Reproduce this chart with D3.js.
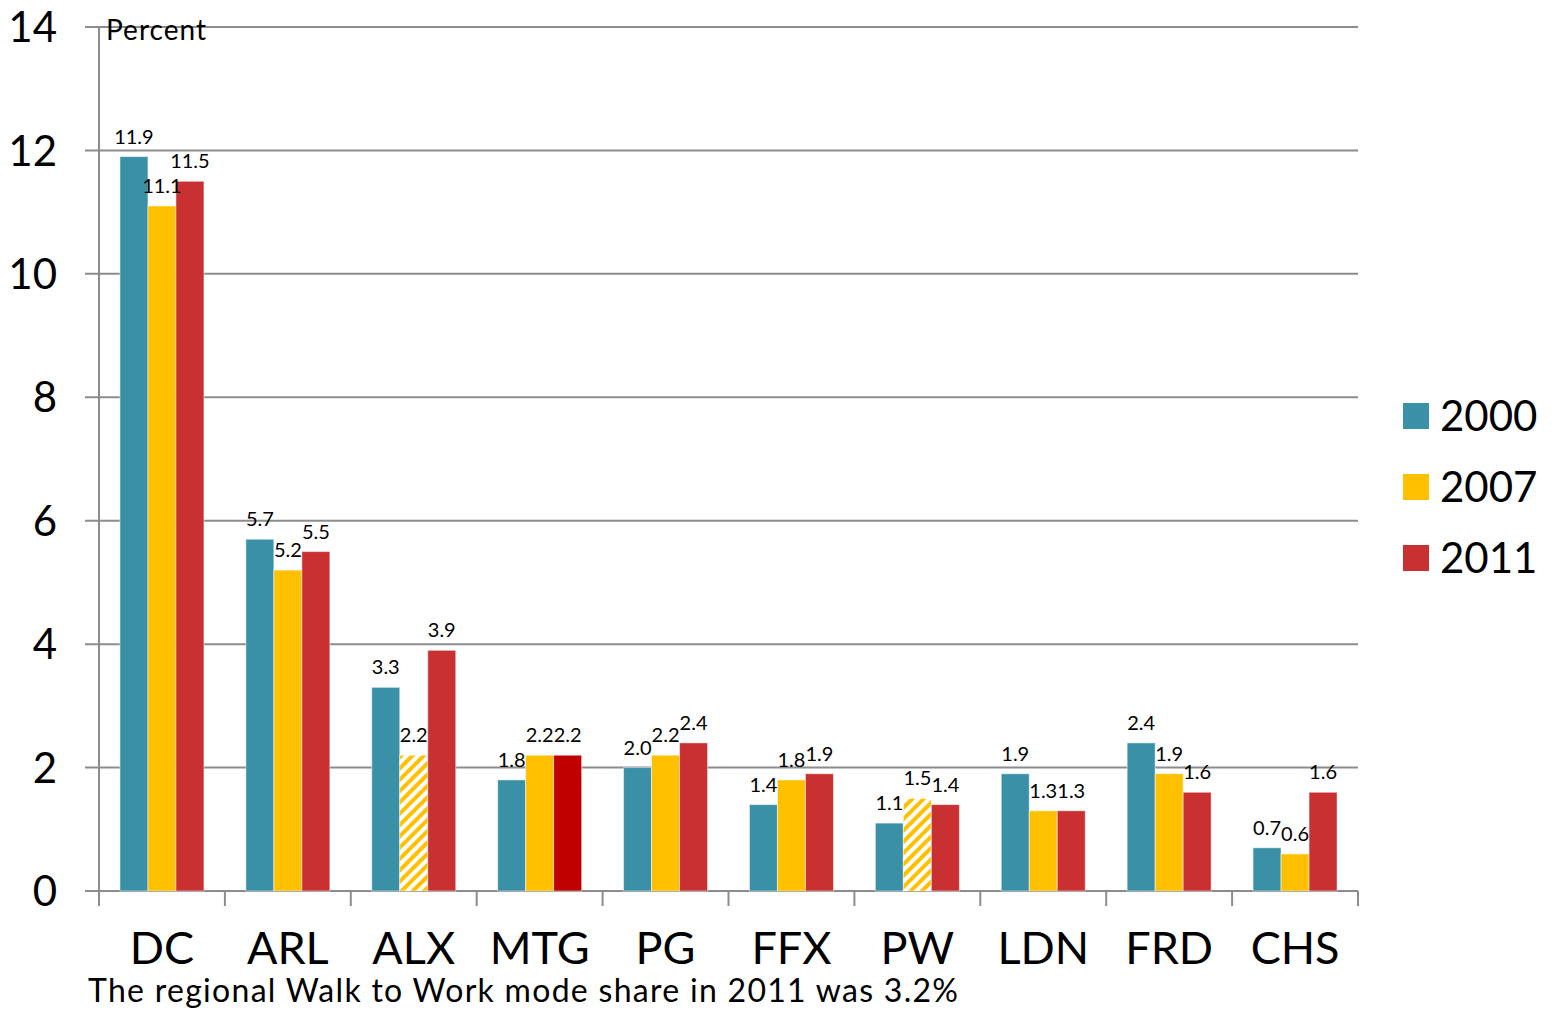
<!DOCTYPE html>
<html>
<head>
<meta charset="utf-8">
<script src="https://cdn.jsdelivr.net/npm/d3@7"></script>
<style>
  body { margin: 0; background: #fff; }
  text { font-family: Lato, "Open Sans", sans-serif; fill: #000; }
</style>
</head>
<body>
<script>
// data
var places = ["DC", "ARL", "ALX", "MTG", "PG", "FFX", "PW", "LDN", "FRD", "CHS"];
var years = ["2000", "2007", "2011"];
var v2000 = [11.9, 5.7, 3.3, 1.8, 2.0, 1.4, 1.1, 1.9, 2.4, 0.7];
var v2007 = [11.1, 5.2, 2.2, 2.2, 2.2, 1.8, 1.5, 1.3, 1.9, 0.6];
var v2011 = [11.5, 5.5, 3.9, 2.2, 2.4, 1.9, 1.4, 1.3, 1.6, 1.6];
var yTicks = [0, 2, 4, 6, 8, 10, 12, 14];
var hatched = ["ALX|2007", "PW|2007"];   // striped bars
var darker = ["MTG|2011"];              // darker red bar
var colors = { "2000": "#3A91A7", "2007": "#FFC000", "2011": "#C83031" };

var W = 1558, H = 1011;
var svg = d3.select("body").append("svg").attr("width", W).attr("height", H);

var defs = svg.append("defs");
var pat = defs.append("pattern")
  .attr("id", "hatch")
  .attr("patternUnits", "userSpaceOnUse")
  .attr("width", 8).attr("height", 8)
  .attr("patternTransform", "rotate(45)");
pat.append("rect").attr("width", 8).attr("height", 8).attr("fill", "#fff");
pat.append("rect").attr("width", 4).attr("height", 8).attr("fill", "#FFC000");

var x0 = d3.scaleBand().domain(places).range([99, 1358]);
var x1 = d3.scaleBand().domain(years).range([0, 84]);
var y = d3.scaleLinear().domain([0, 14]).range([891, 27]);

// grid
svg.append("g").selectAll("line").data(yTicks).enter().append("line")
  .attr("x1", 85).attr("x2", 1358)
  .attr("y1", function(d) { return y(d); }).attr("y2", function(d) { return y(d); })
  .attr("stroke", "#8c8c8c").attr("stroke-width", 2);

// y axis line
svg.append("line").attr("x1", 99).attr("x2", 99).attr("y1", y(14)).attr("y2", y(0))
  .attr("stroke", "#8c8c8c").attr("stroke-width", 2);

// y labels
svg.append("g").selectAll("text").data(yTicks).enter().append("text")
  .attr("x", 57).attr("y", function(d) { return y(d); })
  .attr("dy", "0.36em").attr("text-anchor", "end")
  .style("font-size", "42px")
  .text(function(d) { return d; });

svg.append("text").attr("x", 106).attr("y", 40).style("font-size", "28px")
  .attr("textLength", 100).text("Percent");

// x ticks
var bounds = places.map(function(p) { return x0(p); }).concat([1358]);
svg.append("g").selectAll("line").data(bounds).enter().append("line")
  .attr("x1", function(d) { return d; }).attr("x2", function(d) { return d; })
  .attr("y1", 891).attr("y2", 906)
  .attr("stroke", "#8c8c8c").attr("stroke-width", 2);

// bars
var rows = [];
places.forEach(function(p, i) {
  rows.push({ place: p, year: "2000", v: v2000[i] });
  rows.push({ place: p, year: "2007", v: v2007[i] });
  rows.push({ place: p, year: "2011", v: v2011[i] });
});

function fillOf(d) {
  var k = d.place + "|" + d.year;
  if (hatched.indexOf(k) >= 0) return "url(#hatch)";
  if (darker.indexOf(k) >= 0) return "#C00000";
  return colors[d.year];
}
function bx(d) { return x0(d.place) + (x0.bandwidth() - 84) / 2 + x1(d.year); }

svg.append("g").selectAll("rect").data(rows).enter().append("rect")
  .attr("x", bx)
  .attr("y", function(d) { return y(d.v); })
  .attr("width", x1.bandwidth())
  .attr("height", function(d) { return y(0) - y(d.v); })
  .attr("fill", fillOf)
  .attr("stroke", "#ffffff").attr("stroke-opacity", 0.5).attr("stroke-width", 1);

svg.append("g").selectAll("text").data(rows).enter().append("text")
  .attr("x", function(d) { return bx(d) + x1.bandwidth() / 2; })
  .attr("y", function(d) { return y(d.v) - 13; })
  .attr("text-anchor", "middle")
  .style("font-size", "20px")
  .text(function(d) { return d.v.toFixed(1); });

// category labels
svg.append("g").selectAll("text").data(places).enter().append("text")
  .attr("x", function(d) { return x0(d) + x0.bandwidth() / 2; })
  .attr("y", 964)
  .attr("text-anchor", "middle")
  .style("font-size", "45px")
  .text(function(d) { return d; });

svg.append("text").attr("x", 88).attr("y", 1002).style("font-size", "32px")
  .attr("textLength", 870)
  .text("The regional Walk to Work mode share in 2011 was 3.2%");

// legend
var lg = svg.append("g").selectAll("g").data(years).enter().append("g")
  .attr("transform", function(d, i) { return "translate(1403," + (416 + i * 71) + ")"; });
lg.append("rect").attr("x", 0).attr("y", -13).attr("width", 26).attr("height", 26)
  .attr("fill", function(d) { return colors[d]; });
lg.append("text").attr("x", 37).attr("dy", "0.36em").style("font-size", "42px")
  .text(function(d) { return d; });
</script>
</body>
</html>
